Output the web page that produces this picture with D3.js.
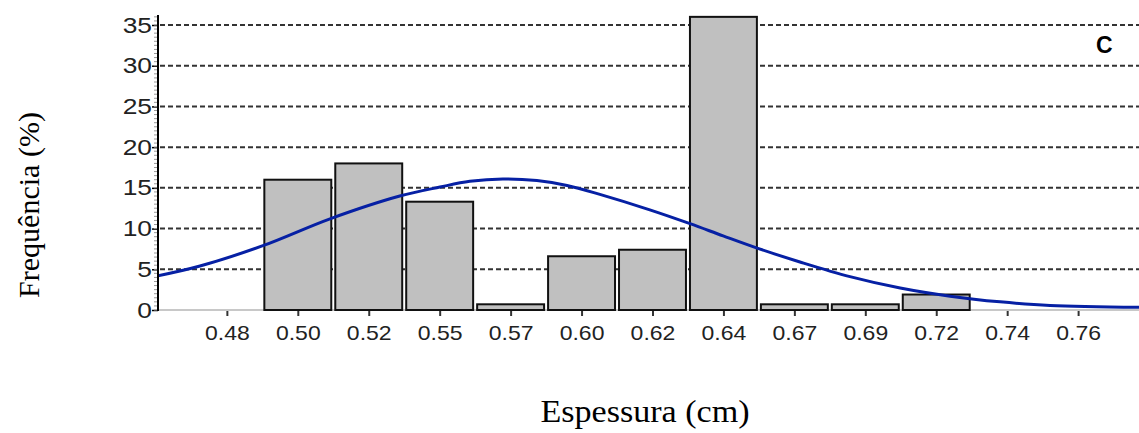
<!DOCTYPE html>
<html lang="pt">
<head>
  <meta charset="utf-8" />
  <title>Espessura - histograma C</title>
  <script src="https://cdnjs.cloudflare.com/ajax/libs/d3/7.8.5/d3.min.js"></script>
  <style>
    body {
        margin: 0;
        background: #fff;
    }
    .tick-label {
        font-family: "Liberation Sans", Arial, sans-serif;
        fill: #222;
    }
    .title {
        font-family: "Liberation Serif", "Times New Roman", serif;
        fill: #000;
    }
  </style>
</head>
<body>
<div id="chart"></div>

<script>
    // bin centres (cm) and the rounded labels the software prints under them
    const binCenters = [0.452, 0.476, 0.500, 0.524, 0.548, 0.572, 0.596, 0.620,
                        0.644, 0.668, 0.692, 0.716, 0.740, 0.764, 0.788]
    const tickLabels = ['', '0.48', '0.50', '0.52', '0.55', '0.57', '0.60', '0.62',
                        '0.64', '0.67', '0.69', '0.72', '0.74', '0.76', '']
    // frequency (%) per bin, null = no bar drawn
    const freq = [0, null, 16.0, 18.0, 13.3, 0.7, 6.6, 7.4,
                  36.0, 0.7, 0.7, 1.9, null, null, 0]
    const binWidth = 0.024

    // fitted normal curve
    const curveX = [0.4527, 0.4669, 0.4882, 0.5109, 0.5345, 0.5481, 0.5582, 0.5694,
                    0.5809, 0.5911, 0.6022, 0.6191, 0.6327, 0.6439, 0.6554, 0.6699,
                    0.6868, 0.7038, 0.7207, 0.7376, 0.7545, 0.7846]
    const curveY = [4.2, 5.4, 7.9, 11.2, 14.0, 15.1, 15.8, 16.1,
                    15.9, 15.3, 14.2, 12.3, 10.6, 9.1, 7.6, 5.9,
                    4.1, 2.7, 1.7, 1.0, 0.55, 0.33]

    const yTicks = [0, 5, 10, 15, 20, 25, 30, 35]

    const W = 1139, H = 433
    const m = { left: 158, right: 1139, top: 25, bottom: 310 }

    const svg = d3.select('#chart')
        .append('svg')
        .attr('width', W)
        .attr('height', H)

    let xScale = d3.scaleLinear()
        .domain([0.4527, 0.7846])
        .range([m.left, m.right])

    let yScale = d3.scaleLinear()
        .domain([0, 35])
        .range([m.bottom, m.top])

    svg.append('clipPath')
        .attr('id', 'plot')
        .append('rect')
        .attr('x', m.left)
        .attr('y', 0)
        .attr('width', m.right - m.left)
        .attr('height', m.bottom + 3)

    // dashed grid
    svg.append('g')
        .selectAll('line')
        .data(yTicks.filter(d => d > 0))
        .enter()
        .append('line')
            .attr('x1', m.left + 2)
            .attr('x2', m.right)
            .attr('y1', d => yScale(d))
            .attr('y2', d => yScale(d))
            .attr('stroke', '#333')
            .attr('stroke-width', 2)
            .attr('stroke-dasharray', '5,3')

    // baseline
    svg.append('line')
        .attr('x1', m.left)
        .attr('x2', m.right)
        .attr('y1', m.bottom)
        .attr('y2', m.bottom)
        .attr('stroke', '#c8c8c8')
        .attr('stroke-width', 2)

    // bars
    const bins = binCenters.map((c, i) => ({ c: c, v: freq[i] }))
        .filter(d => d.v !== null)

    svg.append('g')
        .attr('clip-path', 'url(#plot)')
        .selectAll('rect')
        .data(bins)
        .enter()
        .append('rect')
            .attr('x', d => xScale(d.c - binWidth / 2) + 2)
            .attr('width', d => xScale(d.c + binWidth / 2) - xScale(d.c - binWidth / 2) - 4)
            .attr('y', d => yScale(d.v))
            .attr('height', d => yScale(0) - yScale(d.v))
            .attr('fill', '#c0c0c0')
            .attr('stroke', '#111')
            .attr('stroke-width', 2)

    // normal curve
    const line = d3.line()
        .x(d => xScale(d[0]))
        .y(d => yScale(d[1]))
        .curve(d3.curveCatmullRom.alpha(0.5))

    svg.append('path')
        .attr('clip-path', 'url(#plot)')
        .datum(curveX.map((x, i) => [x, curveY[i]]))
        .attr('d', line)
        .attr('fill', 'none')
        .attr('stroke', '#0620a4')
        .attr('stroke-width', 3)

    // y axis
    const yAxis = svg.append('g')
        .attr('transform', 'translate(' + m.left + ',0)')
        .call(d3.axisLeft(yScale).tickValues(yTicks).tickSize(6).tickFormat(d3.format('d')))
    yAxis.select('.domain').remove()
    yAxis.selectAll('.tick line').attr('stroke', '#000').attr('stroke-width', 1.5)
    yAxis.selectAll('.tick text')
        .attr('class', 'tick-label')
        .attr('x', -5)
        .attr('transform', 'scale(1.2,1)')
        .style('font-size', '22px')

    // minor ticks
    svg.append('g')
        .selectAll('line')
        .data(d3.range(0, 36.5, 0.5))
        .enter()
        .append('line')
            .attr('x1', m.left - 4)
            .attr('x2', m.left)
            .attr('y1', d => yScale(d))
            .attr('y2', d => yScale(d))
            .attr('stroke', '#999')
            .attr('stroke-width', 1)

    svg.append('line')
        .attr('x1', m.left)
        .attr('x2', m.left)
        .attr('y1', 15)
        .attr('y2', m.bottom + 1)
        .attr('stroke', '#000')
        .attr('stroke-width', 2)

    // x ticks under bin centres
    const xTicks = binCenters.filter((c, i) => tickLabels[i] !== '')
    const xAxis = svg.append('g')
        .attr('transform', 'translate(0,' + (m.bottom + 1) + ')')
        .call(d3.axisBottom(xScale)
            .tickValues(xTicks)
            .tickSize(5)
            .tickFormat(d => tickLabels[binCenters.indexOf(d)]))
    xAxis.select('.domain').remove()
    xAxis.selectAll('.tick line').attr('stroke', '#333').attr('stroke-width', 2)
    xAxis.selectAll('.tick text')
        .attr('class', 'tick-label')
        .attr('y', 15)
        .attr('transform', 'scale(1.15,1)')
        .style('font-size', '20px')

    // panel letter
    svg.append('text')
        .attr('x', 1096)
        .attr('y', 53)
        .attr('font-family', '"Liberation Sans", Arial, sans-serif')
        .attr('font-weight', 'bold')
        .attr('font-size', 23)
        .text('C')

    // axis titles
    svg.append('text')
        .attr('class', 'title')
        .attr('text-anchor', 'middle')
        .attr('font-size', 31)
        .attr('transform', 'translate(645,422) scale(1.1,1)')
        .text('Espessura (cm)')

    svg.append('text')
        .attr('class', 'title')
        .attr('text-anchor', 'middle')
        .attr('font-size', 30)
        .attr('transform', 'translate(39,205) rotate(-90)')
        .text('Frequência (%)')
</script>
</body>
</html>
